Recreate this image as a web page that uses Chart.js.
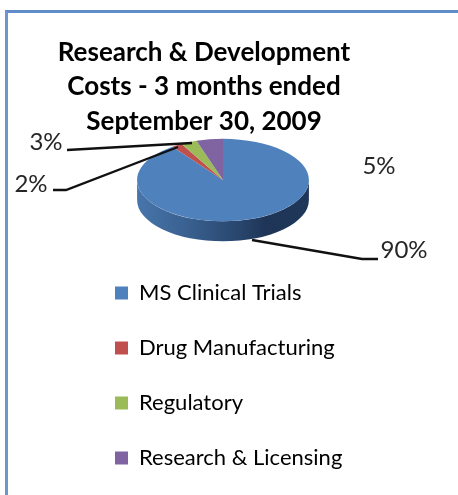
<!DOCTYPE html>
<html>
<head>
<meta charset="utf-8">
<style>
  html, body { margin: 0; padding: 0; background: #fff; overflow: hidden; }
  #wrap { position: relative; width: 458px; height: 495px; }
  #frame { position: absolute; left: 5px; top: 10px; right: 0; bottom: 0;
           border-left: 3px solid #6b97cf; border-top: 3px solid #5f8dc9; }
  canvas { position: absolute; left: 0; top: 0; }
</style>
<script src="https://cdn.jsdelivr.net/npm/chart.js@4"></script>
</head>
<body>
<div id="wrap">
  <div id="frame"></div>
  <canvas id="rdPie" width="458" height="495"></canvas>
</div>
<script>
const categories = ['MS Clinical Trials', 'Drug Manufacturing', 'Regulatory', 'Research & Licensing'];
const shares = [90, 2, 3, 5];
const colors = ['#4f81bd', '#c0504d', '#9bbb59', '#8064a2'];
const titleLines = ['Research & Development', 'Costs - 3 months ended', 'September 30, 2009'];

const FONT = 'Lato, "Open Sans", sans-serif';
const TILT = 0.48;    // squash of the pie, fake 3d
const DEPTH = 20;

// label spot and leader line for each slice, same order as categories
const labelSpots = [
  { x: 404, y: 250, leader: [[252, 240], [362, 259], [378, 259]] },
  { x: 31, y: 184, leader: [[178, 147], [66, 190], [53, 190]] },
  { x: 46, y: 142, leader: [[192, 143], [67, 150]] },
  { x: 379, y: 166, leader: null }
];

const pie3d = {
  id: 'pie3d',
  afterLayout(chart) {
    // title sits left of the middle, legend is a tall column under the pie
    const t = chart.titleBlock;
    t.left = 0; t.right = 408; t.top = 36;
    const l = chart.legend;
    l.update(300, 300, { left: 0, top: 0 });
    l.left = 82; l.right = 82 + l.width;
    l.top = 249; l.bottom = 249 + l.height;
  },
  beforeDatasetsDraw(chart) {
    const arc = chart.getDatasetMeta(0).data[0];
    const { x, y, outerRadius: r } = arc.getProps(['x', 'y', 'outerRadius'], true);
    const ctx = chart.ctx;
    const ry = r * TILT;

    const side = ctx.createLinearGradient(x - r, 0, x + r, 0);
    side.addColorStop(0, '#4775ab');
    side.addColorStop(0.3, '#39608f');
    side.addColorStop(0.62, '#27436a');
    side.addColorStop(0.75, '#1e3557');
    side.addColorStop(1, '#1f3759');
    ctx.save();
    ctx.beginPath();
    ctx.ellipse(x, y, r, ry, 0, Math.PI, 0, true);
    ctx.lineTo(x + r, y + DEPTH);
    ctx.ellipse(x, y + DEPTH, r, ry, 0, 0, Math.PI, false);
    ctx.closePath();
    ctx.fillStyle = side;
    ctx.fill();
    ctx.restore();

    ctx.save();
    ctx.translate(0, y);
    ctx.scale(1, TILT);
    ctx.translate(0, -y);
  },
  afterDatasetsDraw(chart) {
    const ctx = chart.ctx;
    ctx.restore();

    ctx.save();
    ctx.strokeStyle = '#111';
    ctx.lineWidth = 2.4;
    ctx.fillStyle = '#262626';
    ctx.font = '24px ' + FONT;
    ctx.textAlign = 'center';
    ctx.textBaseline = 'middle';
    shares.forEach((v, i) => {
      const spot = labelSpots[i];
      if (spot.leader) {
        ctx.beginPath();
        spot.leader.forEach((p, k) => k ? ctx.lineTo(p[0], p[1]) : ctx.moveTo(p[0], p[1]));
        ctx.stroke();
      }
      ctx.fillText(v + '%', spot.x, spot.y);
    });
    ctx.restore();
  }
};

new Chart(document.getElementById('rdPie'), {
  type: 'pie',
  data: {
    labels: categories,
    datasets: [{ data: shares, backgroundColor: colors, borderWidth: 0, hoverOffset: 0 }]
  },
  options: {
    responsive: false,
    animation: false,
    events: [],
    // padding puts the pie where it is in the picture, top is negative to cancel the title box
    layout: { padding: { left: 137, right: 149, top: -8, bottom: 229 } },
    plugins: {
      tooltip: { enabled: false },
      title: {
        display: true,
        text: titleLines,
        color: '#000',
        font: { family: FONT, size: 26, weight: 'bold', lineHeight: 1.31 },
        padding: 0
      },
      legend: {
        position: 'chartArea',
        align: 'start',
        onClick: null,
        labels: {
          boxWidth: 13,
          boxHeight: 13,
          padding: 33,
          color: '#000',
          font: { family: FONT, size: 22 }
        }
      }
    }
  },
  plugins: [pie3d]
});
</script>
</body>
</html>
